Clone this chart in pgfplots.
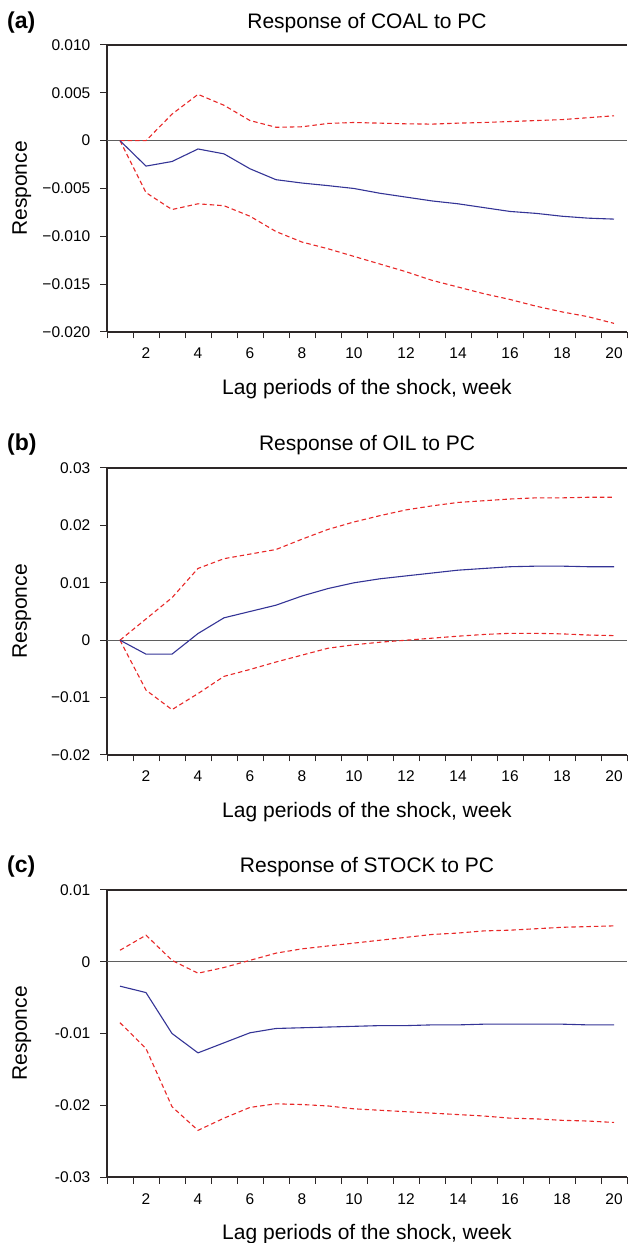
\documentclass[border=0pt]{standalone}
\usepackage{pgfplots}
\pgfplotsset{compat=1.18}
\usepackage{fontspec}
\setmainfont{Liberation Sans}
\definecolor{irfblue}{RGB}{52,52,150}
\definecolor{irfred}{RGB}{232,40,40}
\definecolor{axgray}{RGB}{45,40,40}
\definecolor{zerogray}{RGB}{95,95,95}

\pgfplotsset{irf/.style={
  scale only axis, width=520pt, height=287pt,
  xmin=0.5, xmax=20.5,
  axis x line*=box, axis y line*=left,
  axis line style={axgray, line width=1.2pt},
  xtick={0.5,1.5,...,20.5},
  xticklabels={,2,,4,,6,,8,,10,,12,,14,,16,,18,,20,},
  xtick pos=bottom, ytick pos=left,
  tick align=outside,
  major tick length=6.5pt,
  tick style={axgray, line width=1pt},
  scaled y ticks=false,
  ticklabel style={font=\fontsize{15.5}{18}\selectfont},
  xticklabel style={anchor=base, yshift=-20.5pt, xshift=13pt, inner sep=0pt},
  yticklabel style={anchor=east, inner sep=0pt, xshift=-10pt},
},
mid/.style={irfblue, line width=1.1pt, no marks},
band/.style={irfred, line width=1.1pt, no marks, dash pattern=on 4.5pt off 3pt},
}
\newcommand{\lab}{\fontsize{21}{25}\selectfont}

\begin{document}
\begin{tikzpicture}
\useasboundingbox (0,0) rectangle (627pt,1243pt);

% ---------------- (a)
\begin{axis}[irf, at={(107pt,911pt)}, anchor=south west,
  ymin=-0.02, ymax=0.01,
  ytick={-0.02,-0.015,-0.01,-0.005,0,0.005,0.01},
  yticklabels={−0.020,−0.015,−0.010,−0.005,0,0.005,0.010}]
\draw[zerogray, line width=1pt] (axis cs:0.5,0) -- (axis cs:20.5,0);
\addplot[band] coordinates {(1,0) (2,0) (3,0.00277) (4,0.00484) (5,0.0037) (6,0.0021) (7,0.0014) (8,0.00145) (9,0.0018) (10,0.0019) (11,0.00183) (12,0.00176) (13,0.00173) (14,0.00183) (15,0.0019) (16,0.002) (17,0.0021) (18,0.0022) (19,0.0024) (20,0.0026)};
\addplot[band] coordinates {(1,0) (2,-0.00543) (3,-0.0072) (4,-0.0066) (5,-0.0068) (6,-0.0079) (7,-0.0095) (8,-0.0106) (9,-0.0113) (10,-0.0121) (11,-0.0129) (12,-0.0137) (13,-0.0146) (14,-0.0153) (15,-0.016) (16,-0.0166) (17,-0.0173) (18,-0.0179) (19,-0.0184) (20,-0.0191)};
\addplot[mid] coordinates {(1,0) (2,-0.00266) (3,-0.00218) (4,-0.00087) (5,-0.00138) (6,-0.00294) (7,-0.00408) (8,-0.00443) (9,-0.0047) (10,-0.005) (11,-0.0055) (12,-0.0059) (13,-0.0063) (14,-0.0066) (15,-0.007) (16,-0.0074) (17,-0.0076) (18,-0.0079) (19,-0.0081) (20,-0.0082)};
\end{axis}

% ---------------- (b)
\begin{axis}[irf, at={(107pt,488pt)}, anchor=south west,
  ymin=-0.02, ymax=0.03,
  ytick={-0.02,-0.01,0,0.01,0.02,0.03},
  yticklabels={−0.02,−0.01,0,0.01,0.02,0.03}]
\draw[zerogray, line width=1pt] (axis cs:0.5,0) -- (axis cs:20.5,0);
\addplot[band] coordinates {(1,0) (2,0.0037) (3,0.0074) (4,0.0125) (5,0.0142) (6,0.015) (7,0.0158) (8,0.0176) (9,0.0193) (10,0.0206) (11,0.0217) (12,0.0227) (13,0.0234) (14,0.024) (15,0.0243) (16,0.0246) (17,0.0248) (18,0.0248) (19,0.0249) (20,0.0249)};
\addplot[band] coordinates {(1,0) (2,-0.0087) (3,-0.0121) (4,-0.0093) (5,-0.0063) (6,-0.0051) (7,-0.0038) (8,-0.0026) (9,-0.0014) (10,-0.0008) (11,-0.00035) (12,0) (13,0.00035) (14,0.0007) (15,0.001) (16,0.0012) (17,0.0012) (18,0.0011) (19,0.0009) (20,0.0008)};
\addplot[mid] coordinates {(1,0) (2,-0.00243) (3,-0.00243) (4,0.00116) (5,0.0039) (6,0.005) (7,0.0061) (8,0.0077) (9,0.009) (10,0.01) (11,0.0107) (12,0.0112) (13,0.0117) (14,0.0122) (15,0.0125) (16,0.0128) (17,0.0129) (18,0.0129) (19,0.0128) (20,0.0128)};
\end{axis}

% ---------------- (c)
\begin{axis}[irf, at={(107pt,66pt)}, anchor=south west,
  ymin=-0.03, ymax=0.01,
  ytick={-0.03,-0.02,-0.01,0,0.01},
  yticklabels={-0.03,-0.02,-0.01,0,0.01}]
\draw[zerogray, line width=1pt] (axis cs:0.5,0) -- (axis cs:20.5,0);
\addplot[band] coordinates {(1,0.0016) (2,0.0037) (3,0.0002) (4,-0.0016) (5,-0.0008) (6,0.0002) (7,0.0012) (8,0.0018) (9,0.0022) (10,0.0026) (11,0.003) (12,0.0034) (13,0.0038) (14,0.004) (15,0.0043) (16,0.0044) (17,0.0046) (18,0.0048) (19,0.0049) (20,0.005)};
\addplot[band] coordinates {(1,-0.0085) (2,-0.0121) (3,-0.0202) (4,-0.0235) (5,-0.0218) (6,-0.0203) (7,-0.0198) (8,-0.0199) (9,-0.0201) (10,-0.0205) (11,-0.0207) (12,-0.0209) (13,-0.0211) (14,-0.0213) (15,-0.0215) (16,-0.0218) (17,-0.0219) (18,-0.0221) (19,-0.0222) (20,-0.0224)};
\addplot[mid] coordinates {(1,-0.0034) (2,-0.0043) (3,-0.01) (4,-0.0127) (5,-0.0113) (6,-0.0099) (7,-0.0093) (8,-0.0092) (9,-0.0091) (10,-0.009) (11,-0.0089) (12,-0.0089) (13,-0.0088) (14,-0.0088) (15,-0.0087) (16,-0.0087) (17,-0.0087) (18,-0.0087) (19,-0.0088) (20,-0.0088)};
\end{axis}

% ---------------- text
\foreach \bot/\top/\tl/\tt in {911/1198/a/COAL, 488/776/b/OIL, 66/354/c/STOCK}{
  \node[anchor=base, inner sep=0pt] at (367pt,\top pt+16pt) {\lab Response of \tt\ to PC};
  \node[anchor=base west, inner sep=0pt] at (7pt,\top pt+16pt) {\fontsize{23}{27}\selectfont\bfseries (\tl)};
  \node[anchor=base, inner sep=0pt] at (367pt,\bot pt-63pt) {\lab Lag periods of the shock, week};
  \node[anchor=base, inner sep=0pt, rotate=90] at (27pt,\bot pt+143.5pt) {\lab Responce};
}
\end{tikzpicture}
\end{document}
